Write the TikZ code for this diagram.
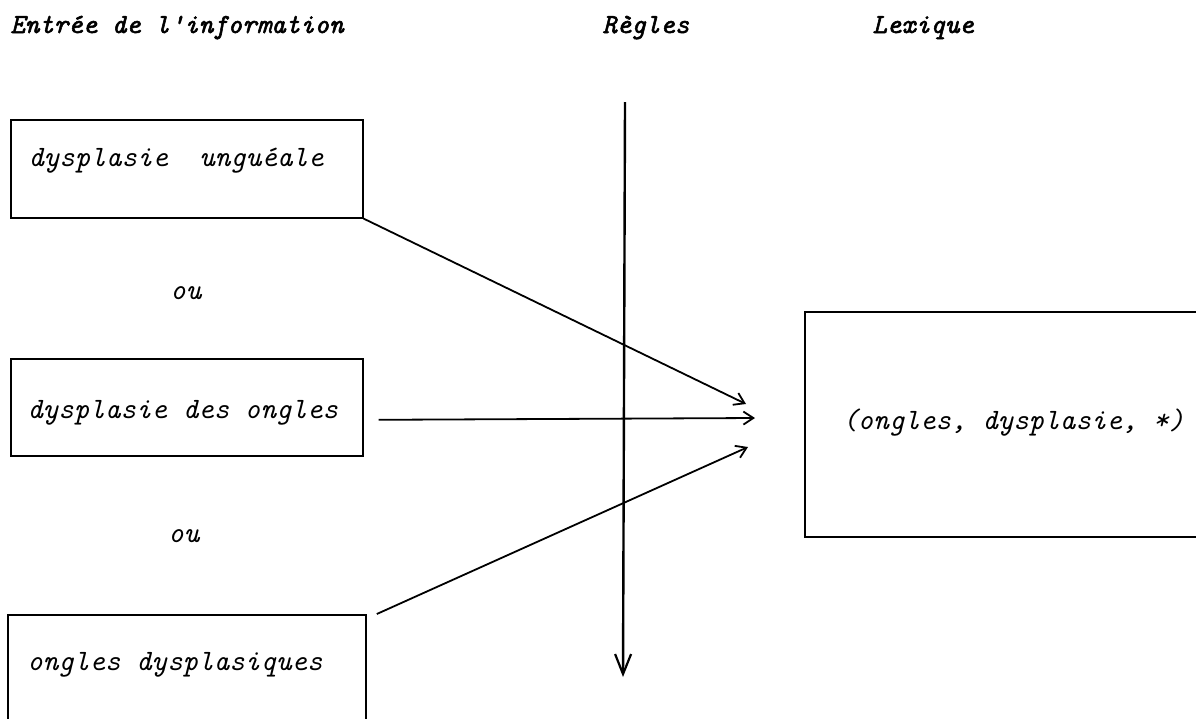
\documentclass[tikz,border=0pt]{standalone}
\usepackage{fontspec}
\usetikzlibrary{arrows.meta}
\newfontfamily\bodyfont{lmmono10-italic}[Extension=.otf]
\newfontfamily\hdrfont{lmmono10-italic}[Extension=.otf,FakeBold=2]
\begin{document}
\begin{tikzpicture}[x=0.5pt,y=-0.5pt,
  hdr/.style={font=\hdrfont\fontsize{13.8}{16}\selectfont, anchor=base west, inner sep=0pt},
  lbl/.style={font=\bodyfont\fontsize{14.8}{18}\selectfont, anchor=base west, inner sep=0pt},
  box/.style={draw, line width=0.8pt, anchor=north west, inner sep=0pt},
  openbox/.style={anchor=north west, inner sep=0pt},
  frame/.style={line width=0.8pt},
  conn/.style={line width=0.9pt, -{Straight Barb[length=5pt,width=6.5pt,line width=0.9pt]}},
  rule/.style={line width=1.2pt, -{Straight Barb[length=10pt,width=8pt,line width=1.1pt]}}]
\useasboundingbox (0,0) rectangle (1197,718);

% headers
\node[hdr] (h1) at (10,33) {Entrée de l'information};
\node[hdr] (h2) at (602,33) {Règles};
\node[hdr] (h3) at (872,33) {Lexique};

% input boxes
\node[box, minimum width=176pt, minimum height=49pt] (b1) at (10,119) {};
\node[box, minimum width=176pt, minimum height=48.5pt] (b2) at (10,358) {};
\node[openbox, minimum width=178.5pt, minimum height=51.5pt] (b3) at (8,615) {};
\draw[frame] (b3.south west) -- (b3.north west) -- (b3.north east) -- (b3.south east);

% lexicon box (open to the right)
\node[openbox, minimum width=195pt, minimum height=112pt] (lx) at (805,312) {};
\draw[frame] (lx.north east) -- (lx.north west) -- (lx.south west) -- (lx.south east);

% texts
\node[lbl] (t1) at (28,166) {dysplasie\ \ unguéale};
\node[lbl] (t2) at (27,418) {dysplasie des ongles};
\node[lbl] (t3) at (27,670) {ongles dysplasiques};
\node[lbl] (t4) at (842,429) {(ongles, dysplasie, *)};
\node[lbl] (o1) at (170,299) {ou};
\node[lbl] (o2) at (168,542) {ou};

% rules axis
\coordinate (r0) at (625,102);
\coordinate (r1) at (623,677);
\draw[rule] (r0) -- (r1);

% connectors
\coordinate (sB) at ([shift={(15,12.5)}]b2.east);
\coordinate (sC) at ([shift={(11,-1)}]b3.north east);
\coordinate (tA) at (746,404);
\coordinate (tB) at (755,418);
\coordinate (tC) at (748,447);
\draw[conn] (b1.south east) -- (tA);
\draw[conn] (sB) -- (tB);
\draw[conn] (sC) -- (tC);
\end{tikzpicture}
\end{document}
